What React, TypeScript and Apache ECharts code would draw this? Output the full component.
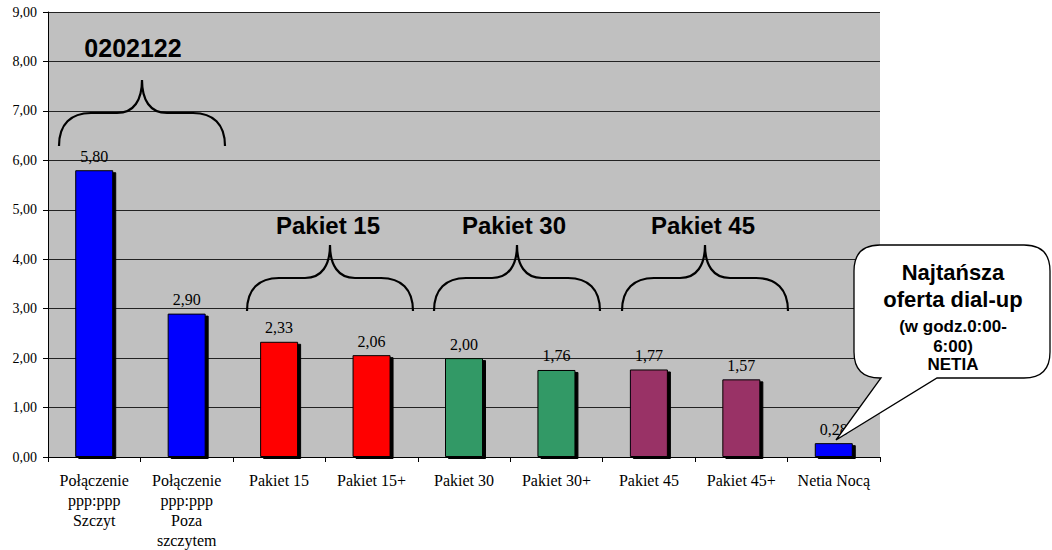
import React, { useEffect, useRef } from "react";
import * as echarts from "echarts";

const categories = [
  "Połączenie\nppp:ppp\nSzczyt",
  "Połączenie\nppp:ppp\nPoza\nszczytem",
  "Pakiet 15",
  "Pakiet 15+",
  "Pakiet 30",
  "Pakiet 30+",
  "Pakiet 45",
  "Pakiet 45+",
  "Netia Nocą",
];
const prices = [5.8, 2.9, 2.33, 2.06, 2.0, 1.76, 1.77, 1.57, 0.28];
const barColors = ["#0000FF", "#0000FF", "#FF0000", "#FF0000", "#339966", "#339966", "#993366", "#993366", "#0000FF"];
const groupTitles = ["0202122", "Pakiet 15", "Pakiet 30", "Pakiet 45"];
const calloutLines = ["Najtańsza", "oferta dial-up", "(w godz.0:00-", "6:00)", "NETIA"];

const BRACE_D =
  "M0,66 C0,44 12,33 32,33 L58,33 C75,33 83,20 83,0 C83,20 91,33 108,33 L134,33 C154,33 166,44 166,66";
const BUBBLE_D =
  "M880,245 L1024,245 Q1050,245 1050,271 L1050,352 Q1050,378 1024,378 L937,378 L836,440 L881,378 L880,378 Q854,378 854,352 L854,271 Q854,245 880,245 Z";

let registered = false;
function registerShapes() {
  if (registered) return;
  registered = true;
  echarts.graphic.registerShape("brace", echarts.graphic.extendPath(BRACE_D, {}) as any);
  echarts.graphic.registerShape("bubble", echarts.graphic.extendPath(BUBBLE_D, {}) as any);
}

const fmt = (v: number) => v.toFixed(2).replace(".", ",");

export default function App() {
  const ref = useRef<HTMLDivElement>(null);
  useEffect(() => {
    if (!ref.current) return;
    registerShapes();
    const chart = echarts.init(ref.current, undefined, { renderer: "svg" });
    const serif = "'Liberation Serif', 'Times New Roman', serif";
    const sans = "'Liberation Sans', Arial, sans-serif";

    const braces = [
      { x: 59, y: 80 },
      { x: 247, y: 245 },
      { x: 434, y: 245 },
      { x: 622, y: 245 },
    ];
    const titlePos = [
      { x: 133, y: 48 },
      { x: 328, y: 225 },
      { x: 514, y: 225 },
      { x: 703, y: 225 },
    ];
    const calloutStyle = [
      { y: 272, size: 22 },
      { y: 299, size: 22 },
      { y: 326, size: 17 },
      { y: 346, size: 17 },
      { y: 364, size: 17 },
    ];

    const graphics: any[] = [];
    braces.forEach((b) =>
      graphics.push({
        type: "brace",
        x: b.x,
        y: b.y,
        z: 100,
        style: { fill: "none", stroke: "#000", lineWidth: 2.2 },
      })
    );
    groupTitles.forEach((t, i) =>
      graphics.push({
        type: "text",
        x: titlePos[i].x,
        y: titlePos[i].y,
        z: 100,
        style: {
          text: t,
          fill: "#000",
          font: `bold ${i === 0 ? 25 : 24}px ${sans}`,
          textAlign: "center",
          textVerticalAlign: "middle",
        },
      })
    );
    graphics.push({
      type: "bubble",
      x: 0,
      y: 0,
      z: 100,
      style: { fill: "#fff", stroke: "#000", lineWidth: 1.3 },
    });
    calloutLines.forEach((t, i) =>
      graphics.push({
        type: "text",
        x: 953,
        y: calloutStyle[i].y,
        z: 101,
        style: {
          text: t,
          fill: "#000",
          font: `bold ${calloutStyle[i].size}px ${sans}`,
          textAlign: "center",
          textVerticalAlign: "middle",
        },
      })
    );

    chart.setOption({
      animation: false,
      grid: {
        left: 48,
        right: 172,
        top: 12,
        bottom: 93,
        show: true,
        backgroundColor: "#C0C0C0",
        borderWidth: 0,
      },
      xAxis: {
        type: "category",
        data: categories,
        axisLine: { lineStyle: { color: "#000", width: 1 } },
        axisTick: { show: true, length: 5, lineStyle: { color: "#000" } },
        axisLabel: {
          interval: 0,
          margin: 13,
          fontFamily: serif,
          fontSize: 16,
          lineHeight: 20,
          color: "#000",
        },
      },
      yAxis: {
        type: "value",
        min: 0,
        max: 9,
        interval: 1,
        axisLine: { show: true, lineStyle: { color: "#000", width: 1 } },
        axisTick: { show: true, length: 5, lineStyle: { color: "#000" } },
        splitLine: { show: true, lineStyle: { color: "#222", width: 1 } },
        axisLabel: {
          margin: 11,
          fontFamily: serif,
          fontSize: 14,
          color: "#000",
          formatter: (v: number) => fmt(v),
        },
      },
      series: [
        {
          type: "bar",
          barWidth: 38,
          data: prices.map((v, i) => ({ value: v, itemStyle: { color: barColors[i] } })),
          itemStyle: {
            borderColor: "#000",
            borderWidth: 1,
            shadowColor: "#000",
            shadowOffsetX: 3,
            shadowOffsetY: 2,
            shadowBlur: 0,
          },
          label: {
            show: true,
            position: "top",
            distance: 6,
            fontFamily: serif,
            fontSize: 16,
            color: "#000",
            formatter: (p: any) => fmt(p.value),
          },
        },
      ],
      graphic: graphics,
    });
    return () => chart.dispose();
  }, []);
  return <div ref={ref} style={{ width: 1052, height: 550, position: "absolute", left: 0, top: 0 }} />;
}
